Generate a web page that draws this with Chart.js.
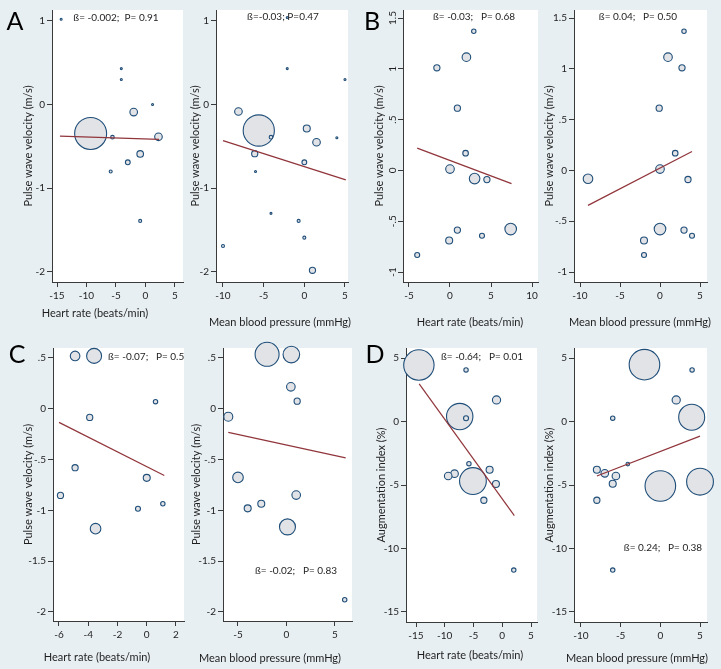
<!DOCTYPE html>
<html>
<head>
<meta charset="utf-8">
<title>Pulse wave velocity and augmentation index vs heart rate and blood pressure</title>
<script src="https://cdn.jsdelivr.net/npm/chart.js@4.4.1/dist/chart.umd.min.js"></script>
<style>
    html, body { margin: 0; padding: 0; background: #e8eff2; }
    #wrap { position: relative; width: 721px; height: 669px; overflow: hidden; }
    canvas { position: absolute; }
</style>
</head>
<body>
<div id="wrap">
    <canvas id="chartA1"></canvas>
    <canvas id="chartA2"></canvas>
    <canvas id="chartB1"></canvas>
    <canvas id="chartB2"></canvas>
    <canvas id="chartC1"></canvas>
    <canvas id="chartC2"></canvas>
    <canvas id="chartD1"></canvas>
    <canvas id="chartD2"></canvas>
</div>
<script>
// ---------- datos ----------

// A: PWV vs frecuencia cardiaca / presion media
const aHrX = [-14.3, -4.1, -4.1, 1.2, -2.0, -9.3, -5.6, 2.2, -0.9, -3.0, -5.9, -0.9];
const aHrY = [1.02, 0.43, 0.30, 0.0, -0.09, -0.345, -0.39, -0.385, -0.59, -0.69, -0.80, -1.39];
const aHrW = [1, 1, 1, 1, 3.8, 16, 1.8, 3.8, 3.3, 2.4, 1.5, 1.5];
const aHrFitX = [-14.5, 2.3];
const aHrFitY = [-0.377, -0.417];

const aMbpX = [-2.1, -2.1, 5.0, -8.1, -5.6, -4.1, 0.3, 4.0, 1.5, -6.1, 0.0, -6.0, -4.1, -0.7, 0.0, -10.0, 1.0];
const aMbpY = [1.04, 0.43, 0.30, -0.083, -0.31, -0.39, -0.286, -0.397, -0.45, -0.587, -0.69, -0.80, -1.30, -1.39, -1.59, -1.69, -1.98];
const aMbpW = [1, 1, 1, 3.8, 15.6, 1.8, 3.5, 1, 3.8, 3.1, 2.4, 1, 1, 1.5, 1.5, 1.5, 3.1];
const aMbpFitX = [-10.0, 5.1];
const aMbpFitY = [-0.43, -0.90];

// B: PWV
const bHrX = [2.9, 2.0, -1.6, 0.9, 1.9, 0.0, 3.0, 4.5, 7.4, 0.9, 3.9, -0.1, -4.0];
const bHrY = [1.37, 1.115, 1.01, 0.613, 0.17, 0.013, -0.08, -0.09, -0.577, -0.587, -0.643, -0.689, -0.833];
const bHrW = [2.2, 4.3, 3.1, 3.1, 2.8, 4.3, 5.3, 3.1, 5.8, 3.1, 2.5, 3.5, 2.5];
const bHrFitX = [-4.0, 7.5];
const bHrFitY = [0.22, -0.13];

const bMbpX = [3.0, 1.0, 2.75, -0.1, 1.9, 0.0, -9.0, 3.5, 0.0, 3.0, 4.0, -2.0, -2.0];
const bMbpY = [1.37, 1.115, 1.01, 0.613, 0.17, 0.013, -0.082, -0.089, -0.577, -0.587, -0.643, -0.689, -0.833];
const bMbpW = [2.2, 4.3, 3.1, 3.1, 2.8, 4.3, 4.8, 3.1, 5.8, 3.1, 2.5, 3.5, 2.5];
const bMbpFitX = [-9.0, 4.0];
const bMbpFitY = [-0.344, 0.187];

// C: PWV
const cHrX = [-4.9, -3.6, 0.6, -3.9, -4.9, 0.0, -5.9, 1.1, -0.6, -3.5];
const cHrY = [0.52, 0.52, 0.07, -0.085, -0.58, -0.68, -0.853, -0.935, -0.984, -1.18];
const cHrW = [4.8, 7.5, 2.2, 3.1, 3.1, 3.5, 3.1, 2.2, 2.5, 5.3];
const cHrFitX = [-6.0, 1.2];
const cHrFitY = [-0.134, -0.657];

const cMbpX = [-2.0, 0.5, 0.45, 1.1, -6.0, -5.0, 1.0, -2.6, -4.0, 0.1, 6.0];
const cMbpY = [0.536, 0.533, 0.216, 0.075, -0.078, -0.676, -0.85, -0.935, -0.98, -1.163, -1.88];
const cMbpW = [12, 8.3, 4.3, 3.1, 4.5, 5.3, 4.3, 3.5, 3.5, 8, 2.2];
const cMbpFitX = [-6.0, 6.1];
const cMbpFitY = [-0.232, -0.484];

// D: indice de aumentacion
const dHrX = [-14.5, -6.3, -1.0, -7.4, -6.3, -5.8, -2.2, -8.3, -9.4, -5.1, -1.1, -3.2, 2.0];
const dHrY = [4.45, 4.06, 1.70, 0.39, 0.26, -3.32, -3.80, -4.11, -4.29, -4.69, -4.92, -6.20, -11.70];
const dHrW = [15.2, 2.2, 4.1, 13.2, 2.5, 2.2, 3.5, 3.8, 3.8, 13.4, 3.5, 3.1, 2.2];
const dHrFitX = [-14.45, 2.1];
const dHrFitY = [2.96, -7.41];

const dMbpX = [-2.0, 4.0, 2.0, 3.95, -6.0, -4.1, -8.0, -7.0, -5.6, -6.0, 0.0, 5.0, -8.0, -6.0];
const dMbpY = [4.48, 4.06, 1.70, 0.34, 0.26, -3.35, -3.80, -4.08, -4.29, -4.90, -5.08, -4.74, -6.20, -11.70];
const dMbpW = [15.3, 2.2, 4.1, 13, 2.2, 1.8, 3.5, 3.8, 3.8, 3.5, 15.3, 13.4, 3.1, 2.2];
const dMbpFitX = [-8.0, 5.0];
const dMbpFitY = [-4.29, -1.15];

// ticks
const hrTicksA = [-15, -10, -5, 0, 5];
const mbpTicksA = [-10, -5, 0, 5];
const pwvTicksA = [-2, -1, 0, 1];
const pwvLabelsA = ['-2', '-1', '0', '1'];

const hrTicksB = [-5, 0, 5, 10];
const mbpTicksB = [-10, -5, 0, 5];
const pwvTicksB = [-1, -0.5, 0, 0.5, 1, 1.5];
const pwvLabelsB = ['-1', '-.5', '0', '.5', '1', '1.5'];

const hrTicksC = [-6, -4, -2, 0, 2];
const mbpTicksC = [-5, 0, 5];
const pwvTicksC = [-2, -1.5, -1, -0.5, 0, 0.5];
const pwvLabelsC = ['-2', '-1.5', '-1', '-.5', '0', '.5'];

const hrTicksD = [-15, -10, -5, 0, 5];
const mbpTicksD = [-10, -5, 0, 5];
const aixTicksD = [-15, -10, -5, 0, 5];
const aixLabelsD = ['-15', '-10', '-5', '0', '5'];

// ---------- textos ----------
const hrTitle = 'Heart rate (beats/min)';
const mbpTitle = 'Mean blood pressure (mmHg)';
const pwvTitle = 'Pulse wave velocity (m/s)';
const aixTitle = 'Augmentation index (%)';

// ---------- layout de cada panel (coordenadas de pagina) ----------
const panels = [
    { id: 'chartA1', box: [0, 0, 190, 335], plot: [52, 10, 183, 282],
      xMin: -15.85, xMax: 6.36, yMin: -2.12, yMax: 1.13,
      xTicks: hrTicksA, yTicks: pwvTicksA, yLabels: pwvLabelsA,
      xs: aHrX, ys: aHrY, ws: aHrW, fitX: aHrFitX, fitY: aHrFitY,
      xTitle: hrTitle, yTitle: pwvTitle, xTitleAt: [95, 313], yTitleX: 28,
      note: 'ß= -0.002;  P= 0.91', noteAt: [116, 18, 'center'], letter: ['A', 15, 22] },
    { id: 'chartA2', box: [180, 0, 190, 335], plot: [216, 10, 348, 282],
      xMin: -10.86, xMax: 5.37, yMin: -2.12, yMax: 1.13,
      xTicks: mbpTicksA, yTicks: pwvTicksA, yLabels: pwvLabelsA,
      xs: aMbpX, ys: aMbpY, ws: aMbpW, fitX: aMbpFitX, fitY: aMbpFitY,
      xTitle: mbpTitle, yTitle: pwvTitle, xTitleAt: [280, 322], yTitleX: 195,
      note: 'ß=-0.03; P=0.47', noteAt: [283, 17, 'center'] },
    { id: 'chartB1', box: [360, 0, 190, 335], plot: [403, 10, 538, 282],
      xMin: -5.73, xMax: 10.73, yMin: -1.098, yMax: 1.579,
      xTicks: hrTicksB, yTicks: pwvTicksB, yLabels: pwvLabelsB, yRotate: true,
      xs: bHrX, ys: bHrY, ws: bHrW, fitX: bHrFitX, fitY: bHrFitY,
      xTitle: hrTitle, yTitle: pwvTitle, xTitleAt: [470, 322], yTitleX: 379,
      note: 'ß= -0.03;   P= 0.68', noteAt: [474, 17, 'center'], letter: ['B', 372, 22] },
    { id: 'chartB2', box: [540, 0, 181, 335], plot: [574, 10, 707, 282],
      xMin: -10.75, xMax: 5.875, yMin: -1.098, yMax: 1.579,
      xTicks: mbpTicksB, yTicks: pwvTicksB, yLabels: pwvLabelsB,
      xs: bMbpX, ys: bMbpY, ws: bMbpW, fitX: bMbpFitX, fitY: bMbpFitY,
      xTitle: mbpTitle, yTitle: pwvTitle, xTitleAt: [640, 322], yTitleX: 549,
      note: 'ß= 0.04;   P= 0.50', noteAt: [638, 17, 'center'] },
    { id: 'chartC1', box: [0, 330, 190, 339], plot: [53, 348, 184, 621],
      xMin: -6.41, xMax: 2.547, yMin: -2.089, yMax: 0.598,
      xTicks: hrTicksC, yTicks: pwvTicksC, yLabels: pwvLabelsC,
      xs: cHrX, ys: cHrY, ws: cHrW, fitX: cHrFitX, fitY: cHrFitY,
      xTitle: hrTitle, yTitle: pwvTitle, xTitleAt: [97, 657], yTitleX: 28,
      note: 'ß= -0.07;   P= 0.54', noteAt: [108, 357, 'left'], letter: ['C', 17, 355] },
    { id: 'chartC2', box: [180, 330, 190, 339], plot: [223, 348, 352, 621],
      xMin: -6.546, xMax: 6.753, yMin: -2.089, yMax: 0.598,
      xTicks: mbpTicksC, yTicks: pwvTicksC, yLabels: pwvLabelsC,
      xs: cMbpX, ys: cMbpY, ws: cMbpW, fitX: cMbpFitX, fitY: cMbpFitY,
      xTitle: mbpTitle, yTitle: pwvTitle, xTitleAt: [270, 658], yTitleX: 196,
      note: 'ß= -0.02;   P= 0.83', noteAt: [296, 571, 'center'] },
    { id: 'chartD1', box: [360, 330, 190, 339], plot: [406, 348, 537, 622],
      xMin: -16.74, xMax: 6.04, yMin: -15.79, yMax: 5.79,
      xTicks: hrTicksD, yTicks: aixTicksD, yLabels: aixLabelsD,
      xs: dHrX, ys: dHrY, ws: dHrW, fitX: dHrFitX, fitY: dHrFitY,
      xTitle: hrTitle, yTitle: aixTitle, xTitleAt: [470, 655], yTitleX: 381,
      note: 'ß= -0.64;   P= 0.01', noteAt: [482, 357, 'center'], letter: ['D', 375, 355] },
    { id: 'chartD2', box: [540, 330, 181, 339], plot: [574, 348, 707, 622],
      xMin: -10.88, xMax: 5.88, yMin: -15.79, yMax: 5.79,
      xTicks: mbpTicksD, yTicks: aixTicksD, yLabels: aixLabelsD,
      xs: dMbpX, ys: dMbpY, ws: dMbpW, fitX: dMbpFitX, fitY: dMbpFitY,
      xTitle: mbpTitle, yTitle: aixTitle, xTitleAt: [637, 658], yTitleX: 549,
      note: 'ß= 0.24;   P= 0.38', noteAt: [663, 548, 'center'] }
];

const FONT = 'Lato';
const INK = '#1e1e1e';
const AXIS = '#3a3a3a';

// fondo blanco del area de grafico + textos sueltos (titulo x, letra, nota)
const panelDecor = {
    id: 'panelDecor',
    beforeDraw(chart) {
        const { ctx, chartArea } = chart;
        ctx.save();
        ctx.fillStyle = '#ffffff';
        ctx.fillRect(chartArea.left, chartArea.top, chartArea.right - chartArea.left, chartArea.bottom - chartArea.top);
        ctx.restore();
    },
    afterDraw(chart, args, opts) {
        const { ctx, chartArea } = chart;
        ctx.save();
        ctx.fillStyle = INK;
        ctx.textBaseline = 'middle';

        ctx.font = `11px ${FONT}`;
        ctx.textAlign = 'center';
        ctx.fillText(opts.xTitle, opts.xTitleAt[0], opts.xTitleAt[1]);

        if (opts.letter) {
            ctx.font = `25px ${FONT}`;
            ctx.fillStyle = '#000000';
            ctx.fillText(opts.letter[0], opts.letter[1], opts.letter[2]);
        }

        // la nota se recorta al area del grafico (como en el original, panel C)
        ctx.beginPath();
        ctx.rect(chartArea.left, chartArea.top, chartArea.right - chartArea.left, chartArea.bottom - chartArea.top);
        ctx.clip();
        ctx.font = `10px ${FONT}`;
        ctx.fillStyle = INK;
        ctx.textAlign = opts.noteAt[2];
        ctx.fillText(opts.note, opts.noteAt[0], opts.noteAt[1]);
        ctx.restore();
    }
};

function makePanel(p) {
    const canvas = document.getElementById(p.id);
    const [bl, bt, bw, bh] = p.box;
    const [pl, pt, pr, pb] = p.plot;
    canvas.width = bw;
    canvas.height = bh;
    canvas.style.left = bl + 'px';
    canvas.style.top = bt + 'px';

    const yWidth = pl - bl;          // ancho reservado al eje y
    const xHeight = bt + bh - pb;    // alto reservado al eje x
    const titleLine = 11 * 1.2;

    const axisGrid = { display: true, drawOnChartArea: false, drawTicks: true, tickLength: 5, color: AXIS, lineWidth: 1 };
    const axisBorder = { display: true, color: AXIS, width: 1 };

    // sin padding automatico: el area de grafico queda fija
    const noPad = s => { s.paddingLeft = 0; s.paddingRight = 0; s.paddingTop = 0; s.paddingBottom = 0; };

    return new Chart(canvas.getContext('2d'), {
        type: 'bubble',
        data: {
            datasets: [{
                type: 'line',
                data: p.fitX.map((x, i) => ({ x: x, y: p.fitY[i] })),
                borderColor: '#90353b',
                borderWidth: 1.2,
                pointRadius: 0,
                fill: false,
                order: 1
            }, {
                type: 'bubble',
                data: p.xs.map((x, i) => ({ x: x, y: p.ys[i], r: p.ws[i] })),
                backgroundColor: '#e2e3e6',
                borderColor: '#1f4e79',
                borderWidth: 1.1,
                clip: false,
                order: 2
            }]
        },
        options: {
            responsive: false,
            animation: false,
            devicePixelRatio: 1,
            events: [],
            layout: { autoPadding: false, padding: { left: 0, top: pt - bt, right: bl + bw - pr, bottom: 0 } },
            scales: {
                x: {
                    type: 'linear',
                    min: p.xMin,
                    max: p.xMax,
                    afterBuildTicks: s => { s.ticks = p.xTicks.map(v => ({ value: v })); },
                    afterFit: s => { s.height = xHeight; noPad(s); },
                    ticks: {
                        autoSkip: false, minRotation: 0, maxRotation: 0, padding: 3,
                        color: INK, font: { family: FONT, size: 10 },
                        callback: v => String(v)
                    },
                    grid: axisGrid,
                    border: axisBorder
                },
                y: {
                    type: 'linear',
                    min: p.yMin,
                    max: p.yMax,
                    afterBuildTicks: s => { s.ticks = p.yTicks.map(v => ({ value: v })); },
                    afterFit: s => { s.width = yWidth; noPad(s); },
                    ticks: {
                        autoSkip: false,
                        minRotation: p.yRotate ? 90 : 0,
                        maxRotation: p.yRotate ? 90 : 0,
                        crossAlign: p.yRotate ? 'center' : 'near',
                        padding: p.yRotate ? -2 : 2,
                        color: INK, font: { family: FONT, size: 10 },
                        callback: (v, i) => p.yLabels[i]
                    },
                    title: {
                        display: true,
                        text: p.yTitle,
                        color: INK,
                        font: { family: FONT, size: 11 },
                        padding: { top: p.yTitleX - bl - titleLine / 2, bottom: 0 }
                    },
                    grid: axisGrid,
                    border: axisBorder
                }
            },
            plugins: {
                legend: { display: false },
                tooltip: { enabled: false },
                panelDecor: {
                    xTitle: p.xTitle,
                    xTitleAt: [p.xTitleAt[0] - bl, p.xTitleAt[1] - bt],
                    letter: p.letter ? [p.letter[0], p.letter[1] - bl, p.letter[2] - bt] : null,
                    note: p.note,
                    noteAt: [p.noteAt[0] - bl, p.noteAt[1] - bt, p.noteAt[2]]
                }
            }
        },
        plugins: [panelDecor]
    });
}

document.addEventListener('DOMContentLoaded', () => {
    panels.forEach(makePanel);
});
</script>
</body>
</html>
